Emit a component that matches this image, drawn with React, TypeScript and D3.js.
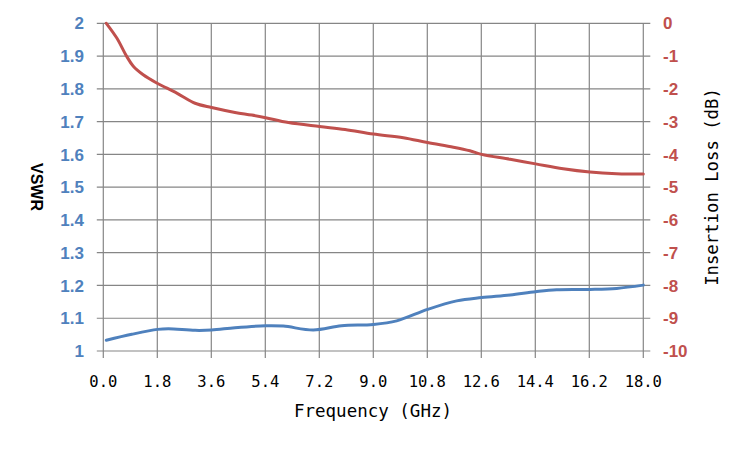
import React from "react";
import * as d3 from "d3";

// Insertion loss (dB), right axis
const lossFreq = [0.1, 0.45, 0.78, 1.0, 1.33, 1.78, 2.45, 3.06, 3.61, 4.39, 4.95, 5.41, 6.17, 7.21, 8.06, 9.0, 10.0, 10.81, 11.67, 12.22, 12.61, 13.56, 14.41, 15.33, 16.22, 17.11, 18.0];
const lossDb = [0, -0.45, -1.01, -1.31, -1.57, -1.82, -2.13, -2.44, -2.57, -2.72, -2.8, -2.88, -3.03, -3.15, -3.24, -3.38, -3.49, -3.64, -3.78, -3.89, -4.0, -4.15, -4.29, -4.44, -4.54, -4.59, -4.6];

// VSWR, left axis
const vswrFreq = [0.1, 0.95, 1.81, 2.17, 3.06, 3.61, 4.39, 5.41, 6.0, 7.0, 7.94, 9.0, 9.78, 10.81, 11.78, 12.61, 13.56, 14.41, 15.11, 16.22, 17.11, 18.0];
const vswr = [1.033, 1.051, 1.066, 1.068, 1.063, 1.064, 1.071, 1.077, 1.076, 1.064, 1.077, 1.081, 1.092, 1.127, 1.153, 1.163, 1.171, 1.181, 1.187, 1.188, 1.191, 1.201];

const xTicks = [0, 1.8, 3.6, 5.4, 7.2, 9.0, 10.8, 12.6, 14.4, 16.2, 18.0];
const leftTicks = [1, 1.1, 1.2, 1.3, 1.4, 1.5, 1.6, 1.7, 1.8, 1.9, 2];
const rightTicks = [0, -1, -2, -3, -4, -5, -6, -7, -8, -9, -10];

const width = 750;
const height = 450;
const plot = { left: 103.3, right: 643.3, top: 23.3, bottom: 351 };

const BLUE = "#4F81BD";
const RED = "#C0504D";
const GRID = "#868686";

export default function App() {
  const x = d3.scaleLinear().domain([0, 18]).range([plot.left, plot.right]);
  const yL = d3.scaleLinear().domain([1, 2]).range([plot.bottom, plot.top]);
  const yR = d3.scaleLinear().domain([-10, 0]).range([plot.bottom, plot.top]);

  const lossLine = d3
    .line<number>()
    .x((_, i) => x(lossFreq[i]))
    .y((d) => yR(d))
    .curve(d3.curveCatmullRom.alpha(0.5));

  const vswrLine = d3
    .line<number>()
    .x((_, i) => x(vswrFreq[i]))
    .y((d) => yL(d))
    .curve(d3.curveCatmullRom.alpha(0.5));

  const mono = "'DejaVu Sans Mono', monospace";
  const sans = "'Liberation Sans', Arial, sans-serif";

  return (
    <svg
      width={width}
      height={height}
      style={{ position: "absolute", left: 0, top: 0, background: "#fff" }}
    >
      {/* horizontal grid + ticks */}
      {leftTicks.map((t) => (
        <line
          key={"h" + t}
          x1={plot.left - 6.5}
          x2={plot.right + 7}
          y1={yL(t)}
          y2={yL(t)}
          stroke={GRID}
          strokeWidth={1.2}
        />
      ))}
      {/* vertical grid + ticks */}
      {xTicks.map((t) => (
        <line
          key={"v" + t}
          x1={x(t)}
          x2={x(t)}
          y1={plot.top}
          y2={plot.bottom + 7}
          stroke={GRID}
          strokeWidth={1.2}
        />
      ))}

      {/* left tick labels */}
      {leftTicks.map((t) => (
        <text
          key={"lt" + t}
          x={84}
          y={yL(t)}
          dy="0.36em"
          textAnchor="end"
          fontFamily={sans}
          fontWeight="bold"
          fontSize={17}
          fill={BLUE}
        >
          {d3.format("~g")(t)}
        </text>
      ))}

      {/* right tick labels */}
      {rightTicks.map((t) => (
        <text
          key={"rt" + t}
          x={663}
          y={yR(t)}
          dy="0.36em"
          textAnchor="start"
          fontFamily={sans}
          fontWeight="bold"
          fontSize={17}
          fill={RED}
        >
          {t}
        </text>
      ))}

      {/* x tick labels */}
      {xTicks.map((t) => (
        <text
          key={"xt" + t}
          x={x(t)}
          y={387}
          textAnchor="middle"
          fontFamily={mono}
          fontSize={15.5}
          fill="#000"
        >
          {t.toFixed(1)}
        </text>
      ))}

      {/* series */}
      <path d={lossLine(lossDb) || ""} fill="none" stroke={RED} strokeWidth={3} strokeLinecap="round" />
      <path d={vswrLine(vswr) || ""} fill="none" stroke={BLUE} strokeWidth={3} strokeLinecap="round" />

      {/* axis titles */}
      <text
        x={373}
        y={417}
        textAnchor="middle"
        fontFamily={mono}
        fontSize={17.5}
        fill="#000"
      >
        Frequency (GHz)
      </text>
      <text
        transform={`translate(31,187) rotate(90)`}
        textAnchor="middle"
        fontFamily={sans}
        fontWeight="bold"
        fontSize={16}
        fill="#000"
      >
        VSWR
      </text>
      <text
        transform={`translate(718,187) rotate(-90)`}
        textAnchor="middle"
        fontFamily={mono}
        fontSize={17.3}
        fill="#000"
      >
        Insertion Loss (dB)
      </text>
    </svg>
  );
}
